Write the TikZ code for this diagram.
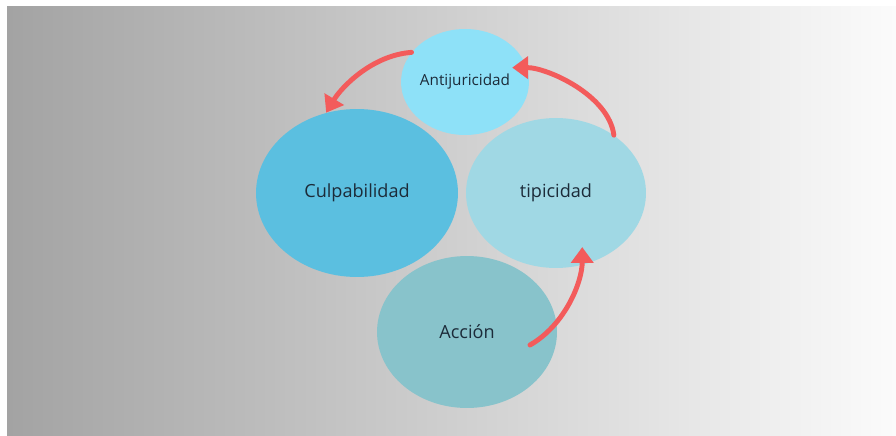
\documentclass[tikz,border=0pt]{standalone}
\usepackage{fontspec}
\setmainfont{Open Sans}
\usetikzlibrary{shapes.geometric, arrows.meta, calc}
\definecolor{bgleft}{HTML}{A3A3A3}
\definecolor{bgright}{HTML}{FBFBFB}
\definecolor{antifill}{HTML}{8EE1F8}
\definecolor{culpfill}{HTML}{5BBFE0}
\definecolor{tipifill}{HTML}{A0D8E4}
\definecolor{accfill}{HTML}{88C3CB}
\definecolor{inkblue}{HTML}{1C2B39}
\definecolor{arrowred}{HTML}{F35B5B}
\tikzstyle{stage} = [
    ellipse,
    draw=none,
    inner sep=0pt,
    text=inkblue,
    font=\fontsize{10.3}{12}\selectfont
]
\tikzstyle{flow} = [
    -{Triangle[width=12.5pt,length=9pt]},
    draw=arrowred,
    line width=2.8pt
]

\begin{document}
\begin{tikzpicture}[x=0.02cm, y=-0.02cm]
    \useasboundingbox (0,0) rectangle (896,436);
    % Background
    \shade[left color=bgleft, right color=bgright] (7,6) rectangle (896,436);

    % Stages
    \node (anti) [stage, fill=antifill, minimum width=2.56cm, minimum height=2.12cm,
        font=\fontsize{8.7}{10}\selectfont] at (465,82) {Antijuricidad};
    \node (culp) [stage, fill=culpfill, minimum width=4.04cm, minimum height=3.36cm] at (357,193) {Culpabilidad};
    \node (tipi) [stage, fill=tipifill, minimum width=3.6cm, minimum height=3cm] at (556,193) {tipicidad};
    \node (acc) [stage, fill=accfill, minimum width=3.6cm, minimum height=3.04cm] at (467,332) {Acción};

    % Start point of the lower arrow
    \coordinate (acc_start) at ($(acc.center)+(63,13)$);

    % Arrows
    \draw [flow, line cap=round] (acc_start) .. controls +(35,-20) and +(0,35) .. ([shift={(0,-18)}]tipi.-70);
    \draw [flow, line cap=round] (tipi.45) .. controls +(-5,-40) and +(35,0) .. ([shift={(-14,2)}]anti.15);
    \draw [flow, line cap=round] (anti.151) .. controls +(-40,3) and +(15,-25) .. (culp.111);
\end{tikzpicture}
\end{document}
